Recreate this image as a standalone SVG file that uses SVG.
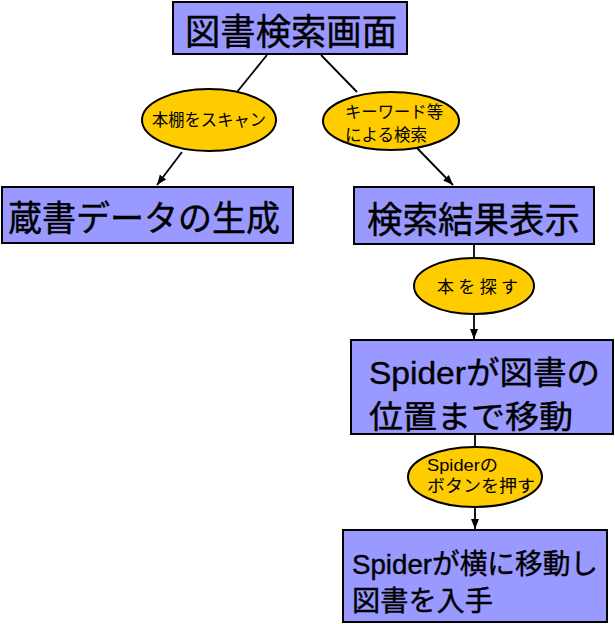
<svg xmlns="http://www.w3.org/2000/svg" width="615" height="624" viewBox="0 0 615 624">
<style>
.box{fill:#9999ff;stroke:#000;stroke-width:2}
.ell{fill:#ffcc00;stroke:#000;stroke-width:2}
.big{font-family:"Liberation Sans","Noto Sans CJK JP",sans-serif;fill:#000;stroke:#000;stroke-width:0.4}
.sm{font-family:"Liberation Sans","Noto Sans CJK JP",sans-serif;font-size:17px;fill:#000}
.con{stroke:#000;stroke-width:1.8;fill:none}
</style>
<defs>
<marker id="ah" markerUnits="userSpaceOnUse" markerWidth="11" markerHeight="9" refX="10" refY="4" orient="auto">
<path d="M0,0 L10,4 L0,8 z" fill="#000"/>
</marker>
</defs>
<rect width="615" height="624" fill="#fff"/>
<g id="connectors">
<line class="con" x1="267" y1="55" x2="237" y2="92"/>
<line class="con" x1="182" y1="152" x2="157" y2="185" marker-end="url(#ah)"/>
<line class="con" x1="321" y1="55" x2="357" y2="92"/>
<line class="con" x1="417" y1="148" x2="453" y2="185" marker-end="url(#ah)"/>
<line class="con" x1="474" y1="245" x2="474" y2="259"/>
<line class="con" x1="474" y1="314" x2="474" y2="339" marker-end="url(#ah)"/>
<line class="con" x1="475" y1="434" x2="475" y2="447"/>
<line class="con" x1="475" y1="507" x2="475" y2="529" marker-end="url(#ah)"/>
</g>
<g id="n1">
<rect class="box" x="173" y="2" width="234" height="52"/>
<text class="big" x="185" y="45" font-size="36" textLength="212" lengthAdjust="spacingAndGlyphs">図書検索画面</text>
</g>
<g id="e1">
<ellipse class="ell" cx="209" cy="120" rx="67" ry="31"/>
<text class="sm" x="152" y="126" textLength="114" lengthAdjust="spacingAndGlyphs">本棚をスキャン</text>
</g>
<g id="e2">
<ellipse class="ell" cx="391" cy="121" rx="68" ry="29"/>
<text class="sm" x="345" y="118" textLength="98" lengthAdjust="spacingAndGlyphs">キーワード等</text>
<text class="sm" x="345" y="141" textLength="82" lengthAdjust="spacingAndGlyphs">による検索</text>
</g>
<g id="n2">
<rect class="box" x="2" y="187" width="291" height="56"/>
<text class="big" x="8" y="231" font-size="35" textLength="272" lengthAdjust="spacingAndGlyphs">蔵書データの生成</text>
</g>
<g id="n3">
<rect class="box" x="354" y="187" width="240" height="57"/>
<text class="big" x="367" y="233" font-size="36" textLength="213" lengthAdjust="spacingAndGlyphs">検索結果表示</text>
</g>
<g id="e3">
<ellipse class="ell" cx="474" cy="286" rx="60" ry="28"/>
<text class="sm" x="437" y="293" textLength="81" lengthAdjust="spacing">本を探す</text>
</g>
<g id="n4">
<rect class="box" x="351" y="340" width="262" height="94"/>
<text class="big" x="369" y="384" font-size="32" textLength="231" lengthAdjust="spacingAndGlyphs">Spiderが図書の</text>
<text class="big" x="369" y="428" font-size="32" textLength="204" lengthAdjust="spacingAndGlyphs">位置まで移動</text>
</g>
<g id="e4">
<ellipse class="ell" cx="475" cy="477" rx="67" ry="30"/>
<text class="sm" x="427" y="471" textLength="71" lengthAdjust="spacingAndGlyphs">Spiderの</text>
<text class="sm" x="427" y="492" textLength="108" lengthAdjust="spacingAndGlyphs">ボタンを押す</text>
</g>
<g id="n5">
<rect class="box" x="343" y="530" width="264" height="92"/>
<text class="big" x="352" y="574" font-size="28" textLength="246" lengthAdjust="spacingAndGlyphs">Spiderが横に移動し</text>
<text class="big" x="352" y="611" font-size="28" textLength="141" lengthAdjust="spacingAndGlyphs">図書を入手</text>
</g>
</svg>
